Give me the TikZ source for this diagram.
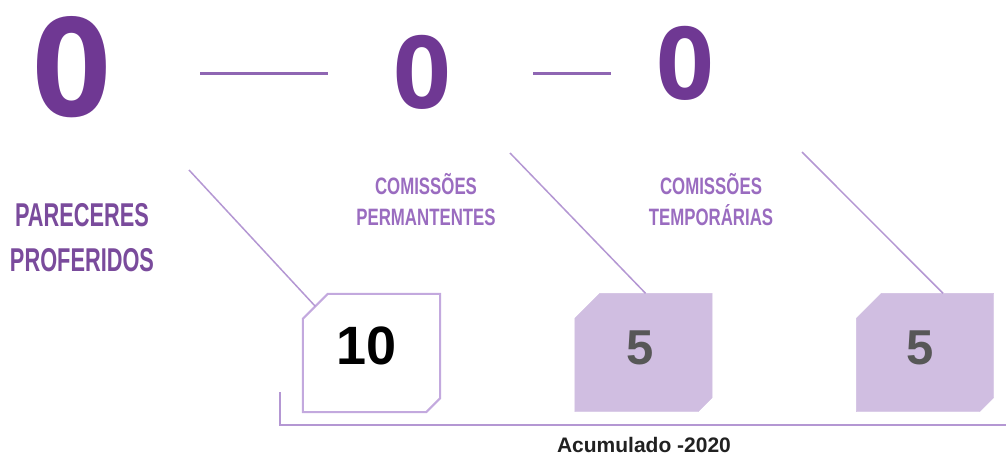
\documentclass[tikz,border=0pt]{standalone}
\usepackage{fontspec}
\setmainfont{Liberation Sans}
\newfontfamily\zerofont{Open Sans}
\newfontfamily\condfont{Liberation Sans}[FakeStretch=0.66]
\newfontfamily\condfontb{Liberation Sans}[FakeStretch=0.71]
\usetikzlibrary{positioning}

\definecolor{zeropurple}{HTML}{6F3893}
\definecolor{titlepurple}{HTML}{7A4B9C}
\definecolor{labelpurple}{HTML}{9A6CC0}
\definecolor{dashpurple}{HTML}{8F66B3}
\definecolor{linepurple}{HTML}{B497D3}
\definecolor{boxline}{HTML}{C3A9DE}
\definecolor{boxfill}{HTML}{D0BEE1}
\definecolor{numgray}{HTML}{575757}

% chamfered outline round a box node
\newcommand{\cutbox}[2]{%
  \draw[#2] ([yshift=-25pt]#1.north west) -- ([xshift=25pt]#1.north west)
    -- (#1.north east) -- ([yshift=14pt]#1.south east)
    -- ([xshift=-14pt]#1.south east) -- (#1.south west) -- cycle;}

\begin{document}
\begin{tikzpicture}[x=1pt,y=-1pt,every node/.style={inner sep=0pt},
    bigzero/.style={font=\zerofont\bfseries\fontsize{138}{138}\selectfont,
      text=zeropurple},
    zero/.style={font=\zerofont\bfseries\fontsize{101}{101}\selectfont,
      text=zeropurple},
    title/.style={font=\condfont\bfseries\fontsize{33}{45}\selectfont,
      text=titlepurple,align=center},
    label/.style={font=\condfontb\bfseries\fontsize{23.7}{31}\selectfont,
      text=labelpurple,align=center},
    slot/.style={minimum width=137pt,minimum height=118pt},
    num/.style={font=\bfseries\fontsize{49}{49}\selectfont,text=numgray}]
  \useasboundingbox (0,0) rectangle (1006,457);

  \node[bigzero] (z1) at (72,67) {0};
  \node[zero] (z2) at (422.5,72.5) {0};
  \node[zero] (z3) at (685,63.5) {0};
  \coordinate (d1a) at (200,74);
  \coordinate (d1b) at (328,74);
  \coordinate (d2a) at (533,74);
  \coordinate (d2b) at (611,74);
  \draw[dashpurple,line width=3pt] (d1a)--(d1b);
  \draw[dashpurple,line width=3pt] (d2a)--(d2b);

  \node[title] (par) at (82,238) {PARECERES\\PROFERIDOS};
  \node[label] (perm) at (426,200) {COMISSÕES\\PERMANTENTES};
  \node[label] (temp) at (711,200) {COMISSÕES\\TEMPORÁRIAS};

  \node[slot] (b1) at (371.5,353) {};
  \node[slot] (b2) at (643.5,352.5) {};
  \node[slot] (b3) at (925,352.5) {};
  \cutbox{b1}{boxline,line width=2pt,fill=white}
  \cutbox{b2}{boxfill,fill=boxfill}
  \cutbox{b3}{boxfill,fill=boxfill}

  \node[num,text=black,font=\bfseries\fontsize{54}{54}\selectfont] (n1)
    at (366.5,346) {10};
  \node[num] (n2) at (640.5,347.5) {5};
  \node[num] (n3) at (920,347.5) {5};

  \coordinate (c1) at (189,170);
  \coordinate (c2) at (510,153);
  \coordinate (c3) at (802,152);
  \draw[linepurple,line width=1.5pt] (c1)--([xshift=12.5pt,yshift=-12.5pt]b1.north west);
  \draw[linepurple,line width=1.5pt] (c2)--([xshift=2pt]b2.north);
  \draw[linepurple,line width=1.5pt] (c3)--([xshift=18pt]b3.north);

  \coordinate (br) at (280,392);
  \coordinate (bre) at (1006,425);
  \draw[linepurple,line width=2pt] (br) |- (bre);
  \node[font=\bfseries\fontsize{21}{21}\selectfont,text=black!87] (acc)
    at (644,444.5) {Acumulado -2020};
\end{tikzpicture}
\end{document}
